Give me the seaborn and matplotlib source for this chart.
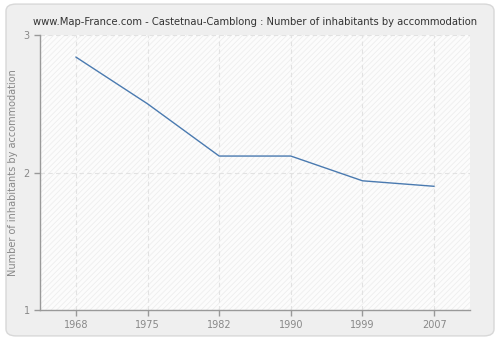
import matplotlib
matplotlib.use("Agg")
import matplotlib.pyplot as plt
from matplotlib.patches import FancyBboxPatch
import seaborn as sns
import pandas as pd

years = ["1968", "1975", "1982", "1990", "1999", "2007"]
inhabitants = [2.84, 2.50, 2.12, 2.12, 1.94, 1.90]
y_ticks = [1, 2, 3]

sns.set_style("white")
plt.rcParams["font.family"] = ["DejaVu Sans"]
plt.rcParams["hatch.color"] = "#ececec"
plt.rcParams["hatch.linewidth"] = 0.6

df = pd.DataFrame({"year": years, "value": inhabitants})

fig = plt.figure(figsize=(5, 3.4), dpi=100)
fig.patch.set_facecolor("white")

# rounded grey frame behind everything
frame = FancyBboxPatch((0.012, 0.012), 0.976, 0.976,
                       boxstyle="round,pad=0,rounding_size=0.02",
                       transform=fig.transFigure, facecolor="#efefef",
                       edgecolor="#d8d8d8", linewidth=1, zorder=-10)
fig.add_artist(frame)

ax = fig.add_axes([0.08, 0.088, 0.86, 0.809])
ax.set_zorder(1)
ax.set_facecolor("#fcfcfc")
ax.patch.set_hatch("//////")
ax.patch.set_edgecolor("#eeeeee")

sns.lineplot(data=df, x="year", y="value", ax=ax, color="#4a7ab0",
             linewidth=1, sort=False)

ax.set_xlim(-0.5, 5.5)
ax.set_ylim(1, 3)
ax.set_yticks(y_ticks)
ax.set_yticklabels([str(t) for t in y_ticks])

ax.grid(True, color="#e2e2e2", linestyle=(0, (4, 3)), linewidth=0.8)
ax.set_axisbelow(True)

for side in ["top", "right"]:
    ax.spines[side].set_visible(False)
for side in ["left", "bottom"]:
    ax.spines[side].set_color("#999999")
    ax.spines[side].set_linewidth(1)

ax.tick_params(axis="both", colors="#999999", labelcolor="#888888",
               labelsize=7, length=4, width=1, direction="out",
               bottom=True, left=True)

ax.set_xlabel("")
ax.set_ylabel("Number of inhabitants by accommodation", fontsize=7,
              color="#888888")
ax.set_title("www.Map-France.com - Castetnau-Camblong : Number of inhabitants by accommodation",
             fontsize=7.2, color="#333333", pad=7)

fig.savefig("out.png", dpi=100, facecolor=fig.get_facecolor())
